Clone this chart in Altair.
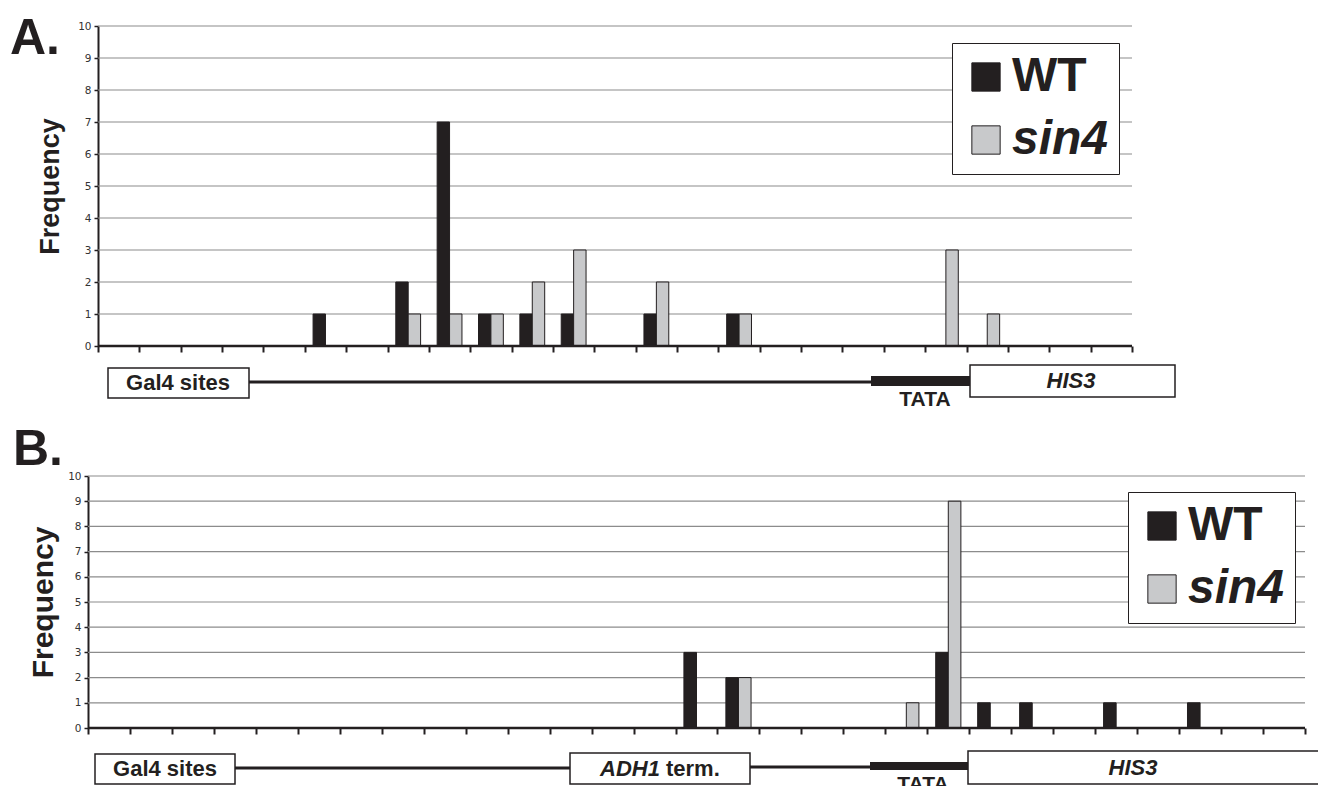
import altair as alt
import pandas as pd

INK = "#231f20"
GREY = "#c8c9cb"
GRID = "#8c8c8c"
FONT = "Liberation Sans"
TICKFONT = "DejaVu Sans"

# ---- data ----
series = ["WT", "sin4"]
freq_ticks = list(range(11))

a_wt   = [0, 0, 0, 0, 0, 1, 0, 2, 7, 1, 1, 1, 0, 1, 0, 1, 0, 0, 0, 0, 0, 0, 0, 0, 0]
a_sin4 = [0, 0, 0, 0, 0, 0, 0, 1, 1, 1, 2, 3, 0, 2, 0, 1, 0, 0, 0, 0, 3, 1, 0, 0, 0]

b_wt   = [0] * 14 + [3, 2, 0, 0, 0, 0, 3, 1, 1, 0, 1, 0, 1, 0, 0]
b_sin4 = [0] * 15 + [2, 0, 0, 0, 1, 9, 0, 0, 0, 0, 0, 0, 0, 0]

one = pd.DataFrame({"k": [0]})


def long_df(wt, s4):
    rows = []
    for i, (w, s) in enumerate(zip(wt, s4)):
        rows.append({"pos": i, "series": "WT", "freq": w})
        rows.append({"pos": i, "series": "sin4", "freq": s})
    return pd.DataFrame(rows)


def text(t, x, y, size, style="normal", align="center", baseline="middle", clip=False):
    return alt.Chart(one).mark_text(
        text=t, font=FONT, fontSize=size, fontWeight="bold", fontStyle=style,
        align=align, baseline=baseline, color=INK, clip=clip,
    ).encode(x=alt.value(x), y=alt.value(y))


def box(x1, x2, y1, y2, clip=False):
    return alt.Chart(one).mark_rect(fill="white", stroke=INK, strokeWidth=1.5, clip=clip).encode(
        x=alt.value(x1), x2=alt.value(x2), y=alt.value(y1), y2=alt.value(y2))


def line(x1, x2, y, w, clip=False):
    return alt.Chart(one).mark_rule(color=INK, strokeWidth=w, clip=clip).encode(
        x=alt.value(x1), x2=alt.value(x2), y=alt.value(y))


def panel(wt, s4, xmin, width, height, yoff, title_size, title_pad, lx, ly, extras):
    n = len(wt)
    df = long_df(wt, s4)
    x_scale = alt.Scale(domain=[xmin, n], nice=False, zero=False)
    y_scale = alt.Scale(domain=[0, 10], nice=False, zero=True)
    x_axis = alt.Axis(
        values=list(range(n + 1)), labels=False, domain=False, grid=False,
        ticks=True, tickSize=6, tickWidth=2, tickColor=INK, title=None)
    y_axis = alt.Axis(
        values=freq_ticks, grid=False, offset=yoff, labelOverlap=False,
        domainColor=INK, domainWidth=2, tickColor=INK, tickSize=4, tickWidth=1.5,
        labelFont=TICKFONT, labelFontSize=10.5, labelColor="#333333", labelPadding=3,
        title="Frequency", titleFont=FONT, titleFontSize=title_size,
        titleFontWeight="bold", titleColor=INK, titlePadding=title_pad)
    grid_df = pd.DataFrame({"freq": freq_ticks[1:]})

    grid = alt.Chart(grid_df).mark_rule(color=GRID, strokeWidth=1.2).encode(
        x=alt.X(datum=0, scale=x_scale, axis=x_axis), x2=alt.X2(datum=n),
        y=alt.Y("freq:Q", scale=y_scale, axis=y_axis))

    legend = alt.Legend(
        title=None, orient="none", legendX=lx, legendY=ly,
        symbolType="square", symbolSize=800, symbolStrokeColor=INK, symbolStrokeWidth=1,
        symbolOffset=0,
        labelFont=FONT, labelFontSize=48, labelFontWeight="bold",
        labelFontStyle={"expr": "datum.value == 'sin4' ? 'italic' : 'normal'"},
        labelColor=INK, labelOffset=2, labelLimit=0,
        labelExpr="datum.label + '\u00a0\u00a0'",
        rowPadding=15, padding=10, strokeColor=INK, fillColor="white",
    )

    bars = alt.Chart(df).transform_filter("datum.freq > 0").transform_calculate(
        x0="datum.pos + (datum.series == 'WT' ? 0.2 : 0.5)",
        x1="datum.pos + (datum.series == 'WT' ? 0.5 : 0.8)",
    ).mark_bar(stroke=INK, strokeWidth=1).encode(
        x=alt.X("x0:Q", scale=x_scale, axis=x_axis),
        x2="x1:Q",
        y=alt.Y("freq:Q", scale=y_scale, axis=y_axis),
        y2=alt.Y2(datum=0),
        color=alt.Color("series:N", scale=alt.Scale(domain=series, range=[INK, GREY]),
                        legend=legend),
    )

    base = alt.Chart(one).mark_rule(color=INK, strokeWidth=2.5).encode(
        x=alt.X(datum=0, scale=x_scale, axis=x_axis), x2=alt.X2(datum=n),
        y=alt.Y(datum=0, scale=y_scale, axis=y_axis))

    return alt.layer(grid, bars, base, *extras).properties(width=width, height=height)


# panel A (plot origin at page x=88)
chart_a = panel(a_wt, a_sin4, -0.2418, 1044, 320, -10, 27, 13, 864, 17,
                [text("A.", -78, -12, 50, align="left", baseline="top")])

# construct diagram under panel A
diag_a = alt.layer(
    line(161, 783, 29, 3),
    line(783, 882, 28, 10),
    box(20, 161, 15, 45),
    text("Gal4 sites", 90, 30, 22),
    text("TATA", 837, 53, 21, baseline="alphabetic"),
    box(882, 1087, 12, 44),
    text("HIS3", 983, 28, 22, style="italic"),
).properties(width=1100, height=72)

# panel B
chart_b = panel(b_wt, b_sin4, 0, 1217, 252, 0, 30, 9, 1040, 16,
                [text("B.", -75, -51, 50, align="left", baseline="top")])

# construct diagram under panel B (clipped at the page edge)
diag_b = alt.layer(
    line(147, 482, 33, 3, clip=True),
    line(662, 782, 32, 3, clip=True),
    line(782, 880, 31, 8, clip=True),
    box(7, 147, 19, 49, clip=True),
    text("Gal4 sites", 77, 34, 22, clip=True),
    box(482, 662, 18, 49, clip=True),
    text("ADH1", 572, 34, 22, style="italic", align="right", clip=True),
    text("term.", 578, 34, 22, align="left", clip=True),
    text("TATA", 835, 39, 21, baseline="top", clip=True),
    box(880, 1260, 16, 49, clip=True),
    text("HIS3", 1045, 33, 22, style="italic", clip=True),
).properties(width=1230, height=51)

chart = alt.vconcat(chart_a, diag_a, chart_b, diag_b, spacing=0).resolve_scale(
    x="independent", y="independent"
).resolve_legend(color="independent").properties(
    padding={"left": 2, "top": 6, "right": 0, "bottom": 0}
).configure_view(stroke=None)

chart.save("out.html", embed_options={"renderer": "svg", "actions": False})
